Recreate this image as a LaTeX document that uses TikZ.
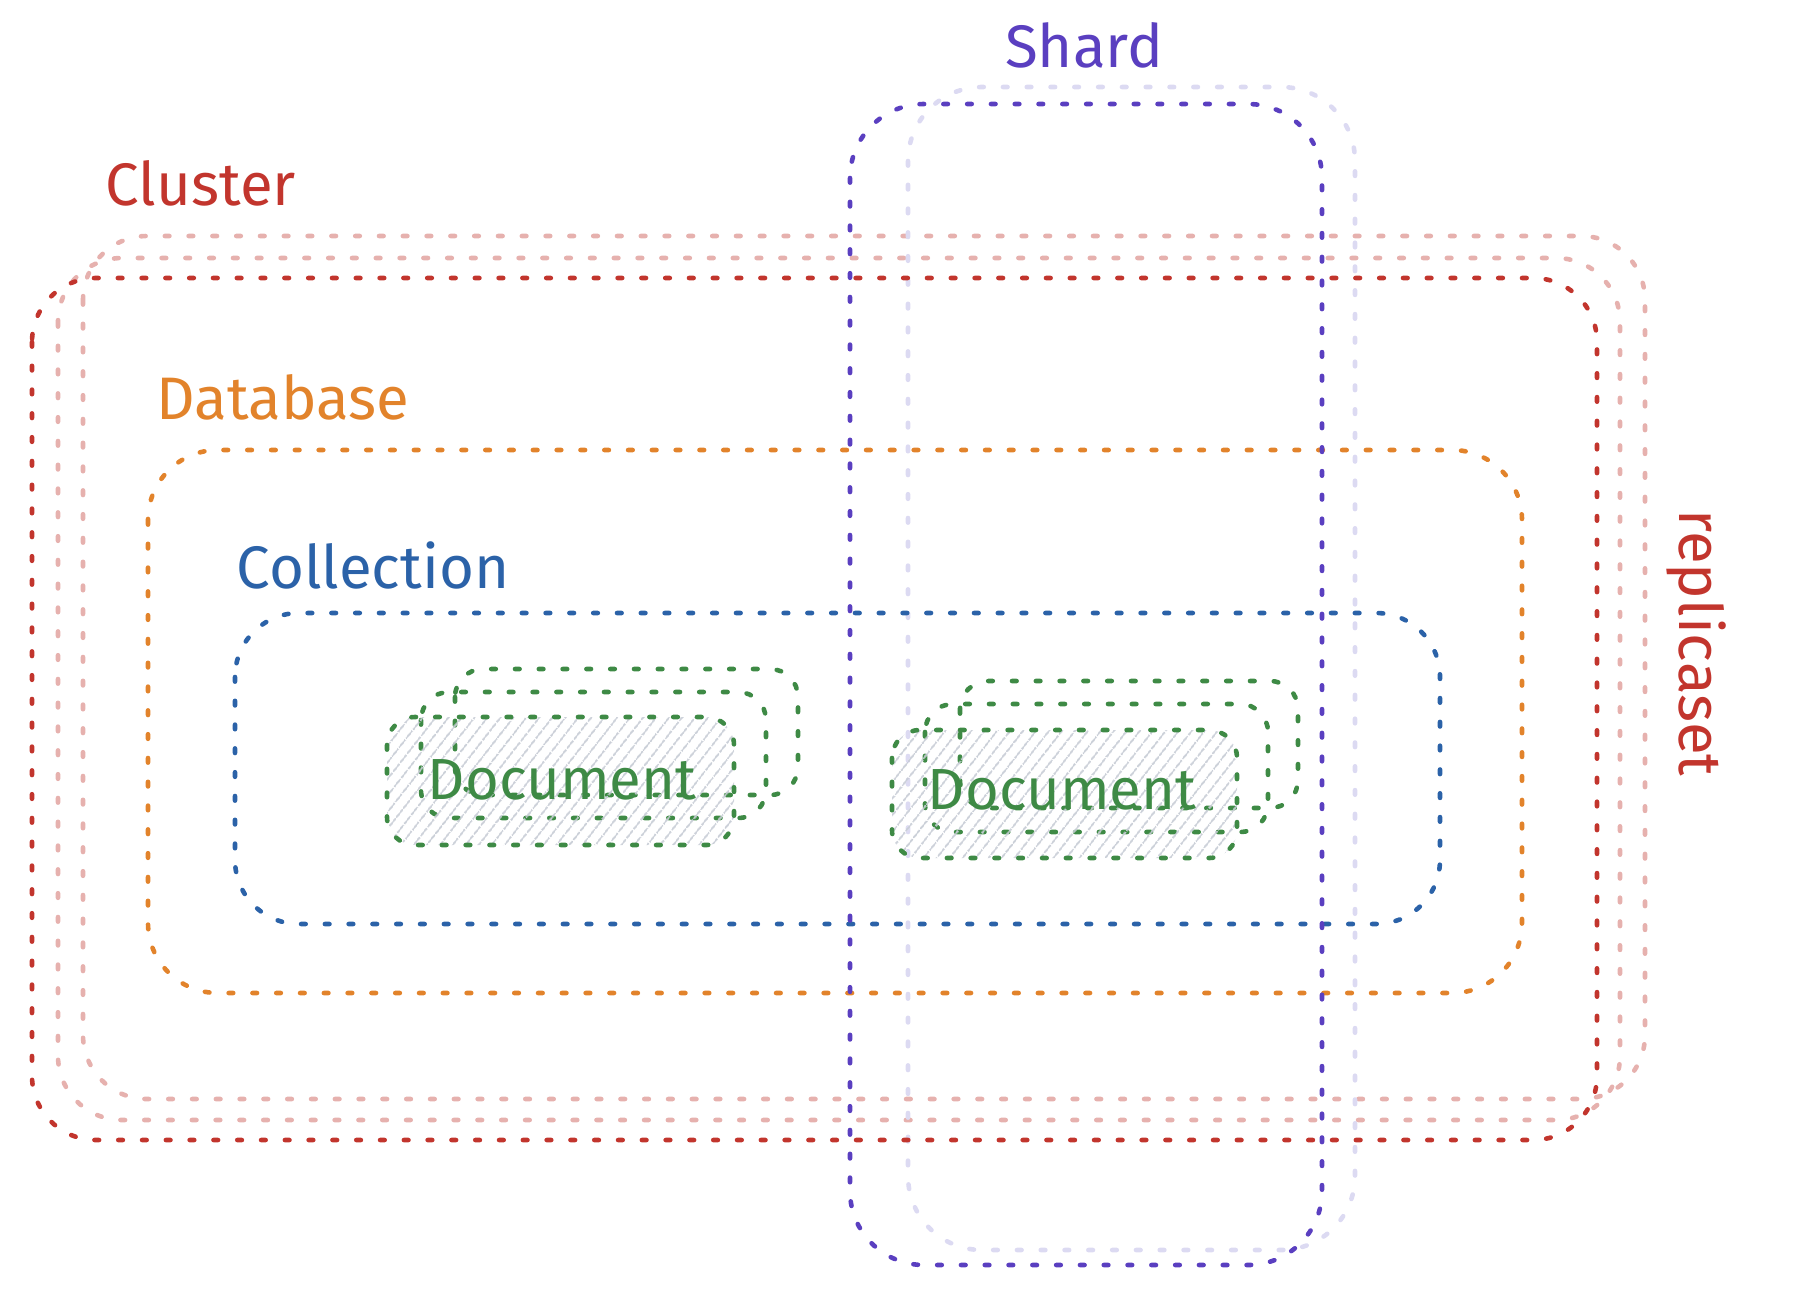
\documentclass[tikz,border=0pt]{standalone}
\usepackage{xcolor}
\usepackage{fontspec}
\setmainfont{Fira Sans}
\usepackage{tikz}
\usetikzlibrary{patterns.meta}

\definecolor{clusterred}{HTML}{C2352D}
\definecolor{replicapink}{HTML}{E6B1AE}
\definecolor{dborange}{HTML}{E2832B}
\definecolor{collblue}{HTML}{2B62A8}
\definecolor{docgreen}{HTML}{3E8A45}
\definecolor{shardviolet}{HTML}{5A3FC0}
\definecolor{shardghost}{HTML}{DCDAF2}
\definecolor{hatchgray}{HTML}{C8CDD6}

\tikzset{
    dotline/.style={
        line width=2.3pt,
        dash pattern=on 2.3pt off 9.6pt,
        line cap=round
    },
    tagtext/.style={
        font=\fontsize{30}{36}\selectfont,
        inner sep=0pt
    },
    doctext/.style={
        font=\fontsize{29}{34}\selectfont,
        text=docgreen,
        inner sep=0pt
    },
    docback/.style={
        dotline,
        draw=docgreen,
        rounded corners=14pt
    },
    docfront/.style={
        dotline,
        draw=docgreen,
        rounded corners=14pt,
        pattern={Lines[angle=52,distance=5.4pt,line width=0.9pt]},
        pattern color=hatchgray
    }
}

\begin{document}
\begin{tikzpicture}[x=0.5pt,y=-0.5pt]
                \useasboundingbox (0,0) rectangle (1794,1298);

                \draw[
                    dotline,
                    draw=replicapink,
                    rounded corners=32pt
                    ] (83,236) rectangle (1645,1099);

                \draw[
                    dotline,
                    draw=replicapink,
                    rounded corners=32pt
                    ] (58,258) rectangle (1620,1120);

                \draw[
                    dotline,
                    draw=shardghost,
                    rounded corners=37pt
                    ] (908,87) rectangle (1355,1250);

                \draw[
                    dotline,
                    draw=clusterred,
                    rounded corners=32pt
                    ] (32,278) rectangle (1597,1140);

                \draw[
                    dotline,
                    draw=dborange,
                    rounded corners=35pt
                    ] (148,450) rectangle (1522,993);

                \draw[
                    dotline,
                    draw=collblue,
                    rounded corners=32pt
                    ] (235,613) rectangle (1440,924);

                \draw[docback] (455,669) rectangle (798,795);
                \draw[docback] (421,692) rectangle (766,818);
                \draw[docfront] (387,717) rectangle (734,845);

                \draw[docback] (960,681) rectangle (1298,808);
                \draw[docback] (925,704) rectangle (1268,832);
                \draw[docfront] (892,730) rectangle (1237,858);

                \draw[
                    dotline,
                    draw=shardviolet,
                    rounded corners=37pt
                    ] (850,104) rectangle (1322,1265);

                \node[tagtext, text=clusterred] (cluster) at (201,183) {Cluster};
                \node[tagtext, text=dborange] (database) at (283,397) {Database};
                \node[tagtext, text=collblue] (collection) at (373,565) {Collection};
                \node[tagtext, text=shardviolet] (shard) at (1084,45) {Shard};
                \node[tagtext, text=clusterred, rotate=-90] (replicaset) at (1696,643) {replicaset};

                \node[doctext] (docleft) at (562,780) {Document};
                \node[doctext] (docright) at (1062,790) {Document};

            \end{tikzpicture}
\end{document}
